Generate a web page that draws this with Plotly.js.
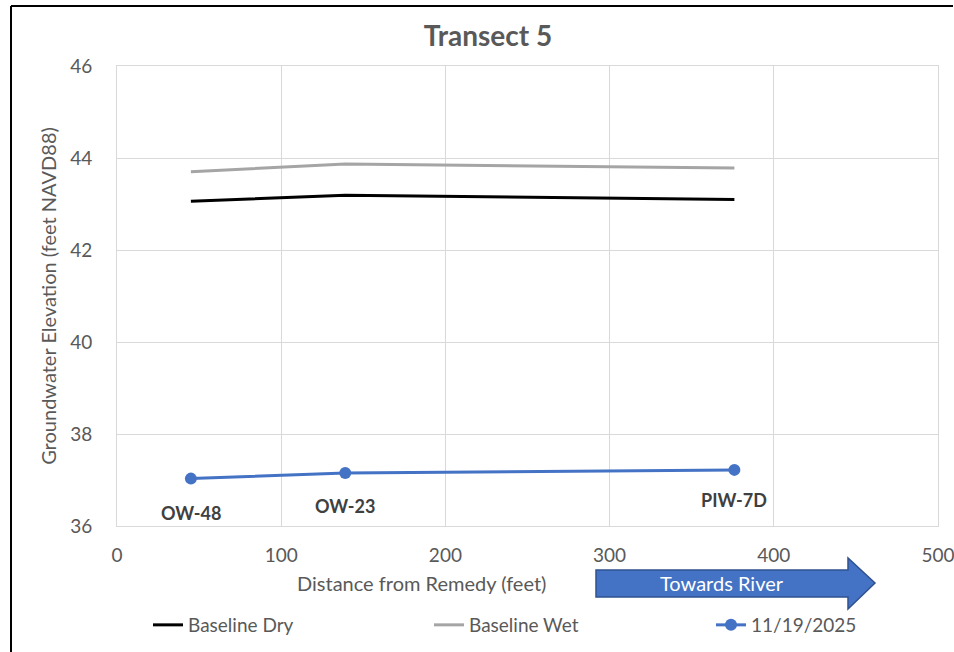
<!DOCTYPE html>
<html>
<head>
<meta charset="utf-8">
<script src="https://cdn.plot.ly/plotly-3.0.1.min.js"></script>
<style>html,body{margin:0;padding:0;background:#fff;}#chart{width:954px;height:652px;}</style>
</head>
<body>
<div id="chart"></div>
<script>
const wellNames = ["OW-48", "OW-23", "PIW-7D"];
const distance = [45, 139, 376];
const baselineDry = [43.06, 43.19, 43.10];
const baselineWet = [43.70, 43.87, 43.78];
const nov2025 = [37.03, 37.15, 37.22];
const seriesNames = ["Baseline Dry", "Baseline Wet", "11/19/2025"];
const xTicks = [0, 100, 200, 300, 400, 500];
const yTicks = [36, 38, 40, 42, 44, 46];

const FONT = "Lato, 'Open Sans', sans-serif";
const GREY = "#595959";

const traces = [
  {x: distance, y: baselineDry, name: seriesNames[0], mode: "lines", legend: "legend",
   line: {color: "#000000", width: 3}},
  {x: distance, y: baselineWet, name: seriesNames[1], mode: "lines", legend: "legend2",
   line: {color: "#A5A5A5", width: 3}},
  {x: distance, y: nov2025, name: seriesNames[2], mode: "lines+markers", legend: "legend3",
   line: {color: "#4472C4", width: 3}, marker: {color: "#4472C4", size: 12}}
];

const labelShift = [-34, -33, -30];
const annotations = wellNames.map((n, i) => ({
  x: distance[i], y: nov2025[i], xref: "x", yref: "y", text: "<b>" + n + "</b>",
  showarrow: false, yshift: labelShift[i], font: {family: FONT, size: 18, color: "#404040"}
}));

function px(x) { return (x - 117) / 821; }
function py(y) { return (526 - y) / 460; }

annotations.push({
  xref: "paper", yref: "paper", x: px(421), y: py(583), xanchor: "center", yanchor: "middle",
  text: "Distance from Remedy (feet)", showarrow: false,
  font: {family: FONT, size: 20, color: GREY}
});
annotations.push({
  xref: "paper", yref: "paper", x: px(722), y: py(583), xanchor: "center", yanchor: "middle",
  text: "Towards River", showarrow: false,
  font: {family: FONT, size: 20, color: "#ffffff"}
});

const arrowPath = "M " + px(596) + " " + py(570) + " L " + px(848) + " " + py(570) +
  " L " + px(848) + " " + py(558) + " L " + px(875) + " " + py(583) +
  " L " + px(848) + " " + py(609) + " L " + px(848) + " " + py(597) +
  " L " + px(596) + " " + py(597) + " Z";

const shapes = [
  {type: "path", xref: "paper", yref: "paper", path: arrowPath,
   fillcolor: "#4472C4", line: {color: "#2F528F", width: 1.5}, layer: "below"},
  {type: "line", xref: "paper", yref: "paper", x0: px(11), x1: px(11), y0: py(6), y1: py(652),
   line: {color: "#000000", width: 2}},
  {type: "line", xref: "paper", yref: "paper", x0: px(11), x1: px(953), y0: py(6), y1: py(6),
   line: {color: "#000000", width: 2}}
];

function legendAt(xPix) {
  return {orientation: "h", xref: "container", x: xPix / 954, xanchor: "left",
          yref: "container", y: 1 - 625 / 652, yanchor: "middle",
          font: {family: FONT, size: 19, color: GREY}, bgcolor: "rgba(0,0,0,0)"};
}

const layout = {
  width: 954, height: 652,
  margin: {l: 117, r: 16, t: 66, b: 126, autoexpand: false},
  paper_bgcolor: "#ffffff", plot_bgcolor: "#ffffff",
  title: {text: "<b>Transect 5</b>", x: px(488), xref: "paper", xanchor: "center",
          y: 1 - 36 / 652, yref: "container", yanchor: "middle",
          font: {family: FONT, size: 28, color: GREY}},
  xaxis: {range: [0, 500], tickvals: xTicks, ticktext: xTicks.map(String),
          showgrid: true, gridcolor: "#D9D9D9", gridwidth: 1, zeroline: false,
          showline: true, linecolor: "#D9D9D9", linewidth: 1, mirror: true,
          ticks: "", ticklabelstandoff: 12, ticklabeloverflow: "allow",
          tickfont: {family: FONT, size: 19, color: GREY}},
  yaxis: {range: [36, 46], tickvals: yTicks, ticktext: yTicks.map(String),
          showgrid: true, gridcolor: "#D9D9D9", gridwidth: 1, zeroline: false,
          showline: true, linecolor: "#D9D9D9", linewidth: 1, mirror: true,
          ticks: "", ticklabelstandoff: 20, ticklabeloverflow: "allow",
          tickfont: {family: FONT, size: 19, color: GREY},
          title: {text: "Groundwater Elevation (feet NAVD88)", standoff: 8,
                  font: {family: FONT, size: 20, color: GREY}}},
  showlegend: true,
  legend: legendAt(148),
  legend2: legendAt(429),
  legend3: legendAt(711),
  annotations: annotations,
  shapes: shapes
};

Plotly.newPlot("chart", traces, layout, {displayModeBar: false, staticPlot: true});
</script>
</body>
</html>
